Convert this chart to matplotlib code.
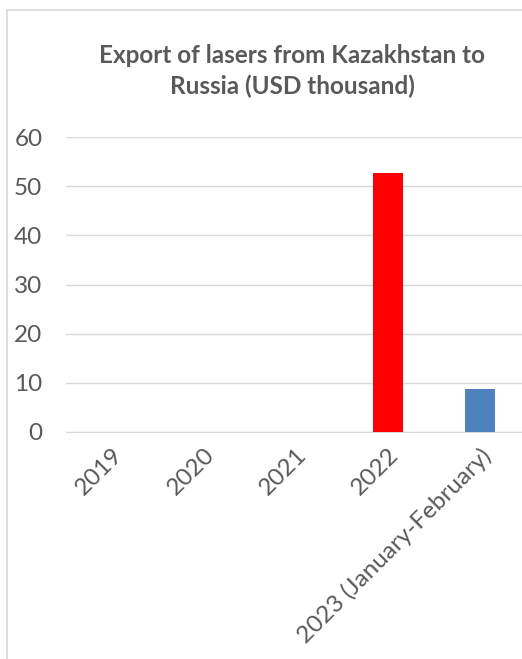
import matplotlib.pyplot as plt
from matplotlib.lines import Line2D

plt.rcParams['font.family'] = ['Lato', 'DejaVu Sans']

years = ["2019", "2020", "2021", "2022", "2023 (January-February)"]
values = [0.05, 0.0, 0.05, 52.7, 8.7]
colors = ["#4F81BD", "#4F81BD", "#4F81BD", "#FF0000", "#4F81BD"]

W, H = 522, 659
fig = plt.figure(figsize=(W / 100, H / 100), dpi=100)

# light frame (only the top and left edges are visible in the crop)
fig.add_artist(Line2D([7 / W, 7 / W], [0, 1 - 10 / H], color="#D9D9D9", lw=1.2))
fig.add_artist(Line2D([7 / W, 1], [1 - 10 / H, 1 - 10 / H], color="#D9D9D9", lw=1.2))

ax = fig.add_axes([66 / W, (H - 432) / H, (526 - 66) / W, (432 - 137) / H])
ax.bar(range(len(years)), values, width=0.33, color=colors, zorder=3)

ax.set_ylim(0, 60)
ax.set_xlim(-0.5, 4.5)
ax.set_yticks(range(0, 61, 10))
ax.yaxis.grid(True, color="#D9D9D9", lw=1, zorder=0)
for s in ["top", "right", "left"]:
    ax.spines[s].set_visible(False)
ax.spines["bottom"].set_color("#D9D9D9")
ax.tick_params(axis="y", length=0, labelsize=17.5, labelcolor="#595959", pad=17)

ax.set_xticks(range(len(years)))
ax.set_xticklabels(years, rotation=45, ha="right", va="top", rotation_mode="anchor")
ax.tick_params(axis="x", length=0, labelsize=17.5, labelcolor="#595959", pad=9)

fig.text(292 / W, 1 - 71 / H, "Export of lasers from Kazakhstan to\nRussia (USD thousand)",
         ha="center", va="center", fontsize=17.5, fontweight="bold", color="#595959",
         linespacing=1.35)

fig.savefig("out.png", dpi=100)
